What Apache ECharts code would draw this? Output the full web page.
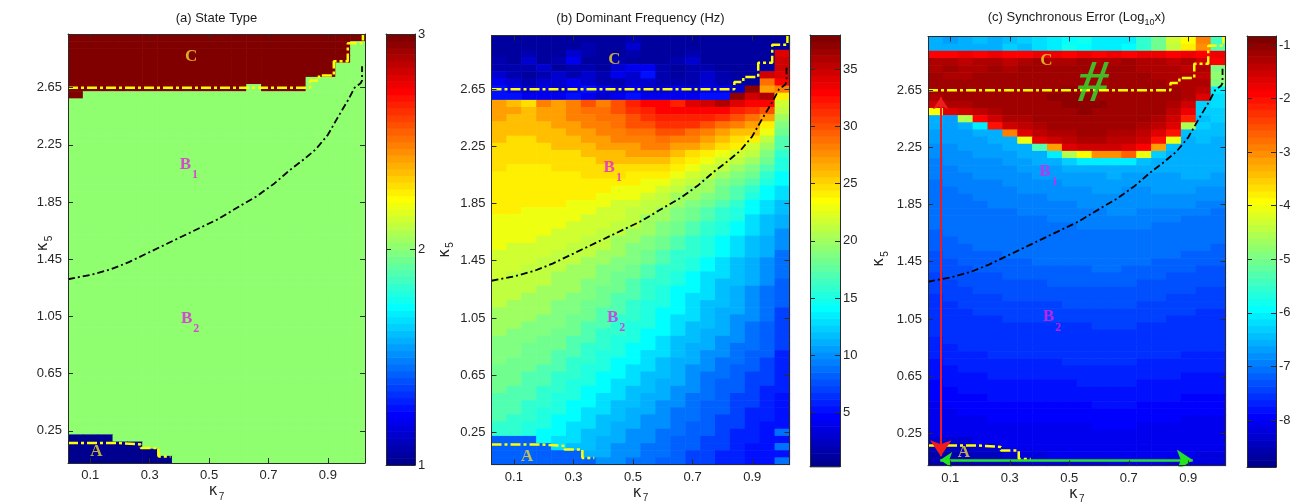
<!DOCTYPE html>
<html>
<head>
<meta charset="utf-8">
<script src="https://cdn.jsdelivr.net/npm/echarts@6/dist/echarts.min.js"></script>
<style>
  html, body { margin: 0; padding: 0; background: #ffffff; }
  #chart { width: 1303px; height: 502px; }
</style>
</head>
<body>
<div id="chart"></div>
<script>
// ---- parameter grid ----
const kappa7 = [0.05,0.10,0.15,0.20,0.25,0.30,0.35,0.40,0.45,0.50,0.55,0.60,0.65,0.70,0.75,0.80,0.85,0.90,0.95,1.00];
// rows listed from the top of the map (kappa5 = 3.00) down to 0.05
const kappa5 = [3.00,2.95,2.90,2.85,2.80,2.75,2.70,2.65,2.60,2.55,2.50,2.45,2.40,2.35,2.30,2.25,2.20,2.15,2.10,2.05,
                2.00,1.95,1.90,1.85,1.80,1.75,1.70,1.65,1.60,1.55,1.50,1.45,1.40,1.35,1.30,1.25,1.20,1.15,1.10,1.05,
                1.00,0.95,0.90,0.85,0.80,0.75,0.70,0.65,0.60,0.55,0.50,0.45,0.40,0.35,0.30,0.25,0.20,0.15,0.10,0.05];

// ---- tick labels ----
const xTicks = [0.1,0.3,0.5,0.7,0.9];
const yTicks = [0.25,0.65,1.05,1.45,1.85,2.25,2.65];
const stateTicks = [1,2,3];
const freqTicks = [5,10,15,20,25,30,35];
const errTicks = [-8,-7,-6,-5,-4,-3,-2,-1];

// ---- colour ranges ----
const stateRange = [1, 3];
const freqRange = [0.24, 38.0];
const errRange = [-8.877, -0.832];

// ---- (a) state type: 1 = A, 2 = B, 3 = C ----
const stateRows = [
"33333333333333333333",
"33333333333333333332",
"33333333333333333332",
"33333333333333333332",
"33333333333333333322",
"33333333333333333322",
"33333333333333332222",
"33333333333323332222",
"32222222222222222222",
"22222222222222222222","22222222222222222222","22222222222222222222","22222222222222222222","22222222222222222222",
"22222222222222222222","22222222222222222222","22222222222222222222","22222222222222222222","22222222222222222222",
"22222222222222222222","22222222222222222222","22222222222222222222","22222222222222222222","22222222222222222222",
"22222222222222222222","22222222222222222222","22222222222222222222","22222222222222222222","22222222222222222222",
"22222222222222222222","22222222222222222222","22222222222222222222","22222222222222222222","22222222222222222222",
"22222222222222222222","22222222222222222222","22222222222222222222","22222222222222222222","22222222222222222222",
"22222222222222222222","22222222222222222222","22222222222222222222","22222222222222222222","22222222222222222222",
"22222222222222222222","22222222222222222222","22222222222222222222","22222222222222222222","22222222222222222222",
"22222222222222222222","22222222222222222222","22222222222222222222","22222222222222222222","22222222222222222222",
"22222222222222222222","22222222222222222222",
"11122222222222222222",
"11111222222222222222",
"11111122222222222222",
"11111112222222222222"
];

// ---- (b) dominant frequency, Hz ----
const freqRows = [
[1,1,1,1,1,1,1,1,1,2,1,1,1,1,1,1,1,1,1,1],
[1,1,1,1,1,1,2,1,1,3,1,1,1,1,1,1,1,1,1,1],
[1,1,2,1,1,3,2,1,1,2,1,1,1,2,1,1,1,1,1,34],
[2,1,3,1,2,4,1,1,2,1,1,1,2,3,1,1,1,1,1,35],
[2,2,2,3,1,2,2,1,3,4,4,2,1,2,2,1,1,1,1,35],
[3,2,1,2,3,2,3,2,4,3,5,2,1,2,3,2,1,1,35,34],
[4,3,2,3,3,4,3,2,2,3,3,2,2,2,3,2,2,1,29,33],
[5,4,3,4,3,4,5,4,3,4,3,3,4,3,4,4,3,37,27,28],
[5,5,4,4,4,5,4,3,4,5,4,4,4,4,5,5,37,35,36,24],
[27,26,25,28,27,28,30,28,30,32,33,33,32,34,35,36,34,33,33,22],
[27,27,26,27,27,28,29,29,30,31,32,33,33,33,33,33,32,31,30,21],
[27,26,26,27,27,28,28,29,29,30,31,32,32,32,32,31,30,29,27,20],
[26,26,26,26,27,27,28,28,29,30,30,31,31,31,30,29,28,27,24,19],
[26,26,26,26,26,27,27,28,28,29,29,30,30,29,28,27,26,26,23,18],
[26,25,25,26,26,26,27,27,28,28,28,29,28,28,27,26,25,24,21,17],
[25,25,25,25,26,26,26,27,27,27,28,28,27,27,26,25,24,22,20,17],
[25,25,25,25,25,25,26,26,26,27,27,27,26,25,24,23,22,21,19,16],
[25,25,25,25,25,25,25,26,26,26,26,26,25,24,23,22,21,20,18,15],
[25,24,24,24,25,25,25,25,25,25,25,25,24,23,22,21,20,19,17,15],
[24,24,24,24,24,24,25,25,25,24,24,24,23,22,21,20,19,18,16,14],
[24,24,24,24,24,24,24,24,24,24,23,23,22,21,20,19,18,17,15,14],
[24,24,24,24,24,24,24,24,23,23,23,22,21,20,20,18,17,16,14,13],
[24,24,24,24,24,24,24,23,23,23,22,21,20,20,19,18,17,15,14,13],
[24,24,24,24,24,23,23,23,22,22,21,21,20,19,18,17,16,14,13,12],
[24,24,23,23,23,23,23,22,22,21,21,20,19,18,17,16,15,14,13,12],
[23,23,23,23,23,23,22,22,22,21,20,20,19,18,17,16,15,13,12,11],
[23,23,23,23,23,22,22,22,21,21,20,19,18,17,16,15,14,13,12,11],
[23,23,23,23,22,22,22,21,21,20,20,19,18,17,16,15,14,13,12,10],
[23,23,23,22,22,22,21,21,20,20,19,18,17,16,15,14,13,12,11,10],
[23,22,22,22,22,21,21,21,20,19,19,18,17,16,15,14,13,12,11,10],
[22,22,22,22,21,21,21,20,20,19,18,17,16,16,15,14,13,12,11,9],
[22,22,22,21,21,21,20,20,19,19,18,17,16,15,14,13,12,11,10,9],
[22,22,21,21,21,20,20,19,19,18,17,16,16,15,14,13,12,11,10,9],
[22,21,21,21,20,20,20,19,18,18,17,16,15,14,13,13,12,11,10,9],
[21,21,21,21,20,20,19,19,18,17,16,16,15,14,13,12,12,11,10,8],
[21,21,21,20,20,20,19,18,18,17,16,15,14,14,13,12,11,10,9,8],
[21,21,20,20,20,19,19,18,17,17,16,15,14,13,13,12,11,10,9,8],
[21,20,20,20,19,19,18,18,17,16,15,15,14,13,12,12,11,10,9,8],
[20,20,20,20,19,19,18,17,17,16,15,14,14,13,12,11,11,10,9,7],
[20,20,20,19,19,18,18,17,16,16,15,14,13,13,12,11,10,10,9,7],
[20,20,19,19,19,18,17,17,16,15,15,14,13,12,12,11,10,9,8,7],
[20,19,19,19,18,18,17,16,16,15,14,14,13,12,11,11,10,9,8,7],
[19,19,19,18,18,17,17,16,15,15,14,13,12,12,11,10,10,9,8,7],
[19,19,18,18,18,17,16,16,15,14,14,13,12,11,11,10,9,9,8,7],
[19,19,18,18,17,17,16,15,15,14,13,13,12,11,10,10,9,8,8,6],
[19,18,18,18,17,16,16,15,14,14,13,12,11,11,10,9,9,8,7,6],
[18,18,18,17,17,16,15,15,14,13,13,12,11,10,10,9,8,8,7,6],
[18,18,17,17,16,16,15,14,14,13,12,12,11,10,9,9,8,7,7,6],
[18,18,17,17,16,15,15,14,13,13,12,11,11,10,9,8,8,7,7,6],
[18,17,17,16,16,15,14,14,13,12,12,11,10,10,9,8,8,7,6,6],
[17,17,17,16,15,15,14,13,13,12,11,11,10,9,9,8,7,7,6,5],
[17,17,16,16,15,14,14,13,12,12,11,10,10,9,8,8,7,7,6,5],
[17,17,16,15,15,14,13,13,12,11,11,10,9,9,8,8,7,6,6,5],
[17,16,16,15,14,14,13,12,12,11,10,10,9,9,8,7,7,6,6,5],
[16,16,15,15,14,13,13,12,11,11,10,10,9,8,8,7,7,6,5,5],
[16,16,15,14,14,13,12,12,11,10,10,9,9,8,8,7,6,6,5,9],
[8,8,8,14,13,13,12,11,11,10,10,9,8,8,7,7,6,6,5,5],
[8,8,8,8,13,12,12,11,10,10,9,9,8,8,7,7,6,5,5,9],
[8,8,8,8,8,8,11,11,10,10,9,9,8,7,7,6,6,5,5,5],
[8,8,8,8,8,8,8,10,10,9,9,8,8,7,7,6,6,5,5,9]
];

// ---- (c) synchronous error, log10 ----
const errRows = [
[-6.6,-6.7,-6.5,-6.4,-6.6,-6.4,-6.3,-6.2,-6.1,-5.9,-5.8,-6.0,-6.1,-6.0,-5.6,-5.1,-4.3,-3.9,-2.9,-5.4],
[-6.5,-6.6,-6.6,-6.5,-6.5,-6.3,-6.4,-6.2,-6.0,-5.8,-5.9,-6.1,-6.0,-5.9,-5.5,-5.0,-4.4,-3.8,-3.0,-5.3],
[-1.9,-1.9,-1.8,-1.9,-1.8,-1.9,-1.9,-1.8,-1.8,-1.9,-1.8,-1.9,-1.8,-1.9,-1.8,-1.8,-1.9,-1.8,-1.9,-1.8],
[-1.3,-1.3,-1.4,-1.3,-1.3,-1.4,-1.3,-1.2,-1.3,-1.3,-1.2,-1.3,-1.3,-1.2,-1.3,-1.3,-1.4,-1.3,-1.5,-1.9],
[-1.3,-1.2,-1.3,-1.3,-1.2,-1.3,-1.2,-1.2,-1.2,-1.2,-1.2,-1.2,-1.2,-1.2,-1.3,-1.3,-1.3,-1.4,-1.3,-4.9],
[-1.2,-1.3,-1.3,-1.2,-1.2,-1.2,-1.2,-1.1,-1.2,-1.1,-1.2,-1.2,-1.1,-1.2,-1.2,-1.3,-1.3,-1.3,-1.4,-4.8],
[-1.2,-1.2,-1.2,-1.2,-1.2,-1.1,-1.1,-1.1,-1.1,-1.1,-1.1,-1.1,-1.1,-1.2,-1.2,-1.2,-1.3,-1.3,-1.3,-4.9],
[-1.2,-1.2,-1.2,-1.1,-1.2,-1.1,-1.1,-1.1,-1.1,-1.0,-1.1,-1.1,-1.1,-1.1,-1.2,-1.2,-1.2,-1.3,-1.4,-6.1],
[-1.3,-1.2,-1.2,-1.2,-1.1,-1.1,-1.1,-1.1,-1.0,-1.0,-1.0,-1.1,-1.1,-1.1,-1.1,-1.2,-1.2,-1.3,-1.6,-6.2],
[-1.5,-1.3,-1.3,-1.2,-1.2,-1.2,-1.1,-1.1,-1.1,-1.0,-1.0,-1.0,-1.1,-1.1,-1.1,-1.2,-1.3,-1.5,-6.3,-6.2],
[-3.9,-1.7,-1.5,-1.4,-1.3,-1.2,-1.2,-1.1,-1.1,-1.1,-1.0,-1.1,-1.1,-1.1,-1.2,-1.2,-1.4,-1.8,-6.3,-6.3],
[-6.6,-6.7,-4.5,-1.9,-1.5,-1.3,-1.3,-1.2,-1.1,-1.1,-1.1,-1.1,-1.1,-1.2,-1.2,-1.3,-1.5,-2.1,-6.4,-6.3],
[-6.6,-6.7,-6.6,-6.0,-2.0,-1.5,-1.4,-1.3,-1.2,-1.2,-1.2,-1.2,-1.2,-1.2,-1.3,-1.4,-1.7,-4.6,-6.3,-6.4],
[-6.7,-6.7,-6.7,-6.6,-6.5,-2.9,-1.7,-1.4,-1.3,-1.3,-1.2,-1.2,-1.3,-1.3,-1.4,-1.6,-2.0,-6.4,-6.4,-6.4],
[-6.7,-6.7,-6.7,-6.7,-6.6,-6.5,-4.0,-1.7,-1.5,-1.4,-1.3,-1.3,-1.4,-1.4,-1.5,-2.0,-4.0,-6.5,-6.4,-6.5],
[-6.8,-6.8,-6.7,-6.7,-6.7,-6.6,-6.5,-5.3,-3.1,-1.6,-1.5,-1.5,-1.5,-1.6,-1.9,-3.1,-6.4,-6.5,-6.5,-6.5],
[-6.8,-6.8,-6.8,-6.7,-6.7,-6.7,-6.6,-6.5,-6.0,-4.6,-3.9,-3.0,-3.0,-2.7,-4.0,-6.3,-6.5,-6.5,-6.5,-6.6],
[-6.9,-6.8,-6.8,-6.8,-6.8,-6.7,-6.7,-6.6,-6.5,-6.3,-6.1,-6.0,-6.0,-6.1,-6.4,-6.5,-6.6,-6.6,-6.6,-6.6],
[-6.9,-6.9,-6.8,-6.8,-6.8,-6.8,-6.7,-6.7,-6.7,-6.6,-6.6,-6.5,-6.5,-6.6,-6.6,-6.6,-6.6,-6.6,-6.6,-6.6],
[-6.9,-6.9,-6.9,-6.8,-6.8,-6.8,-6.8,-6.7,-6.7,-6.7,-6.7,-6.7,-6.6,-6.7,-6.7,-6.7,-6.7,-6.6,-6.6,-6.7],
[-7.0,-6.9,-6.9,-6.9,-6.9,-6.8,-6.8,-6.8,-6.8,-6.7,-6.7,-6.7,-6.7,-6.7,-6.7,-6.7,-6.7,-6.7,-6.7,-6.7],
[-7.0,-7.0,-6.9,-6.9,-6.9,-6.9,-6.8,-6.8,-6.8,-6.8,-6.8,-6.7,-6.7,-6.8,-6.8,-6.7,-6.7,-6.7,-6.8,-6.8],
[-7.0,-7.0,-7.0,-6.9,-6.9,-6.9,-6.9,-6.9,-6.8,-6.8,-6.8,-6.8,-6.8,-6.8,-6.8,-6.8,-6.8,-6.8,-6.8,-6.8],
[-7.0,-7.0,-7.0,-7.0,-6.9,-6.9,-6.9,-6.9,-6.9,-6.9,-6.8,-6.8,-6.8,-6.8,-6.8,-6.8,-6.8,-6.8,-6.9,-6.9],
[-7.1,-7.0,-7.0,-7.0,-7.0,-7.0,-6.9,-6.9,-6.9,-6.9,-6.9,-6.9,-6.8,-6.8,-6.9,-6.9,-6.9,-6.9,-6.9,-7.0],
[-7.1,-7.1,-7.0,-7.0,-7.0,-7.0,-7.0,-7.0,-6.9,-6.9,-6.9,-6.9,-6.9,-6.9,-6.9,-6.9,-6.9,-7.0,-7.0,-7.0],
[-7.1,-7.1,-7.1,-7.0,-7.0,-7.0,-7.0,-7.0,-7.0,-7.0,-6.9,-6.9,-6.9,-6.9,-6.9,-7.0,-7.0,-7.0,-7.0,-7.0],
[-7.2,-7.1,-7.1,-7.1,-7.1,-7.0,-7.0,-7.0,-7.0,-7.0,-7.0,-7.0,-7.0,-7.0,-7.0,-7.0,-7.0,-7.0,-7.1,-7.1],
[-7.2,-7.2,-7.1,-7.1,-7.1,-7.1,-7.1,-7.0,-7.0,-7.0,-7.0,-7.0,-7.0,-7.0,-7.0,-7.0,-7.1,-7.1,-7.1,-7.1],
[-7.2,-7.2,-7.2,-7.1,-7.1,-7.1,-7.1,-7.1,-7.1,-7.1,-7.0,-7.0,-7.0,-7.0,-7.1,-7.1,-7.1,-7.1,-7.1,-7.2],
[-7.3,-7.2,-7.2,-7.2,-7.2,-7.1,-7.1,-7.1,-7.1,-7.1,-7.1,-7.1,-7.1,-7.1,-7.1,-7.1,-7.1,-7.2,-7.2,-7.2],
[-7.3,-7.3,-7.2,-7.2,-7.2,-7.2,-7.2,-7.1,-7.1,-7.1,-7.1,-7.1,-7.1,-7.1,-7.1,-7.2,-7.2,-7.2,-7.2,-7.2],
[-7.3,-7.3,-7.3,-7.2,-7.2,-7.2,-7.2,-7.2,-7.2,-7.2,-7.2,-7.1,-7.1,-7.2,-7.2,-7.2,-7.2,-7.2,-7.3,-7.3],
[-7.4,-7.3,-7.3,-7.3,-7.3,-7.2,-7.2,-7.2,-7.2,-7.2,-7.2,-7.2,-7.2,-7.2,-7.2,-7.2,-7.3,-7.3,-7.3,-7.3],
[-7.4,-7.4,-7.3,-7.3,-7.3,-7.3,-7.3,-7.3,-7.2,-7.2,-7.2,-7.2,-7.2,-7.2,-7.3,-7.3,-7.3,-7.3,-7.3,-7.3],
[-7.4,-7.4,-7.4,-7.3,-7.3,-7.3,-7.3,-7.3,-7.3,-7.3,-7.3,-7.3,-7.3,-7.3,-7.3,-7.3,-7.3,-7.3,-7.4,-7.4],
[-7.5,-7.4,-7.4,-7.4,-7.4,-7.3,-7.3,-7.3,-7.3,-7.3,-7.3,-7.3,-7.3,-7.3,-7.3,-7.3,-7.4,-7.4,-7.4,-7.4],
[-7.5,-7.5,-7.4,-7.4,-7.4,-7.4,-7.4,-7.4,-7.4,-7.3,-7.3,-7.3,-7.3,-7.3,-7.4,-7.4,-7.4,-7.4,-7.4,-7.4],
[-7.5,-7.5,-7.5,-7.4,-7.4,-7.4,-7.4,-7.4,-7.4,-7.4,-7.4,-7.4,-7.4,-7.4,-7.4,-7.4,-7.4,-7.4,-7.5,-7.5],
[-7.6,-7.5,-7.5,-7.5,-7.5,-7.4,-7.4,-7.4,-7.4,-7.4,-7.4,-7.4,-7.4,-7.4,-7.4,-7.4,-7.5,-7.5,-7.5,-7.5],
[-7.6,-7.6,-7.5,-7.5,-7.5,-7.5,-7.5,-7.5,-7.5,-7.5,-7.5,-7.4,-7.4,-7.4,-7.5,-7.5,-7.5,-7.5,-7.5,-7.5],
[-7.6,-7.6,-7.6,-7.5,-7.5,-7.5,-7.5,-7.5,-7.5,-7.5,-7.5,-7.5,-7.5,-7.5,-7.5,-7.5,-7.5,-7.5,-7.6,-7.6],
[-7.7,-7.6,-7.6,-7.6,-7.6,-7.6,-7.5,-7.5,-7.5,-7.5,-7.5,-7.5,-7.5,-7.5,-7.5,-7.5,-7.6,-7.6,-7.6,-7.6],
[-7.7,-7.7,-7.6,-7.6,-7.6,-7.6,-7.6,-7.6,-7.6,-7.6,-7.6,-7.6,-7.6,-7.6,-7.6,-7.6,-7.6,-7.6,-7.6,-7.6],
[-7.7,-7.7,-7.7,-7.7,-7.6,-7.6,-7.6,-7.6,-7.6,-7.6,-7.6,-7.6,-7.6,-7.6,-7.6,-7.6,-7.6,-7.7,-7.7,-7.7],
[-7.8,-7.7,-7.7,-7.7,-7.7,-7.7,-7.7,-7.7,-7.7,-7.6,-7.6,-7.6,-7.6,-7.6,-7.7,-7.7,-7.7,-7.7,-7.7,-7.7],
[-7.8,-7.8,-7.7,-7.7,-7.7,-7.7,-7.7,-7.7,-7.7,-7.7,-7.7,-7.7,-7.7,-7.7,-7.7,-7.7,-7.7,-7.7,-7.7,-7.7],
[-7.8,-7.8,-7.8,-7.8,-7.7,-7.7,-7.7,-7.7,-7.7,-7.7,-7.7,-7.7,-7.7,-7.7,-7.7,-7.7,-7.7,-7.8,-7.8,-7.8],
[-7.9,-7.8,-7.8,-7.8,-7.8,-7.8,-7.8,-7.8,-7.8,-7.8,-7.7,-7.7,-7.7,-7.7,-7.8,-7.8,-7.8,-7.8,-7.8,-7.8],
[-7.9,-7.9,-7.8,-7.8,-7.8,-7.8,-7.8,-7.8,-7.8,-7.8,-7.8,-7.8,-7.8,-7.8,-7.8,-7.8,-7.8,-7.8,-7.8,-7.8],
[-7.9,-7.9,-7.9,-7.9,-7.8,-7.8,-7.8,-7.8,-7.8,-7.8,-7.8,-7.8,-7.8,-7.8,-7.8,-7.8,-7.8,-7.9,-7.9,-7.9],
[-8.0,-7.9,-7.9,-7.9,-7.9,-7.9,-7.9,-7.9,-7.9,-7.9,-7.9,-7.8,-7.8,-7.8,-7.9,-7.9,-7.9,-7.9,-7.9,-7.9],
[-8.0,-8.0,-7.9,-7.9,-7.9,-7.9,-7.9,-7.9,-7.9,-7.9,-7.9,-7.9,-7.9,-7.9,-7.9,-7.9,-7.9,-7.9,-7.9,-7.9],
[-8.0,-8.0,-8.0,-8.0,-7.9,-7.9,-7.9,-7.9,-7.9,-7.9,-7.9,-7.9,-7.9,-7.9,-7.9,-7.9,-7.9,-8.0,-8.0,-8.0],
[-8.1,-8.0,-8.0,-8.0,-8.0,-8.0,-8.0,-8.0,-8.0,-8.0,-8.0,-7.9,-7.9,-7.9,-8.0,-8.0,-8.0,-8.0,-8.0,-8.0],
[-8.1,-8.1,-8.0,-8.0,-8.0,-8.0,-8.0,-8.0,-8.0,-8.0,-8.0,-8.0,-8.0,-8.0,-8.0,-8.0,-8.0,-8.0,-8.0,-8.0],
[-8.3,-8.3,-8.3,-8.1,-8.1,-8.1,-8.1,-8.1,-8.0,-8.0,-8.0,-8.0,-8.0,-8.0,-8.0,-8.0,-8.0,-8.1,-8.1,-8.1],
[-8.4,-8.4,-8.4,-8.3,-8.3,-8.1,-8.1,-8.1,-8.1,-8.1,-8.1,-8.1,-8.1,-8.1,-8.1,-8.1,-8.1,-8.1,-8.1,-8.1],
[-8.5,-8.5,-8.4,-8.4,-8.4,-8.3,-8.2,-8.2,-8.1,-8.1,-8.1,-8.1,-8.1,-8.1,-8.1,-8.1,-8.1,-8.1,-8.2,-8.2],
[-8.5,-8.5,-8.5,-8.4,-8.4,-8.4,-8.3,-8.2,-8.2,-8.2,-8.2,-8.2,-8.1,-8.1,-8.1,-8.1,-8.2,-8.2,-8.2,-8.2]
];

// ---- region boundaries (kappa7, kappa5) ----
const boundaryC = [[0.025,2.65],[0.84,2.65],[0.84,2.70],[0.87,2.70],[0.87,2.735],[0.92,2.735],[0.92,2.835],
                   [0.967,2.835],[0.967,2.96],[1.018,2.96],[1.018,3.025]];
const boundaryA = [[0.025,0.165],[0.19,0.165],[0.19,0.155],[0.27,0.155],[0.27,0.13],[0.33,0.13],[0.33,0.07],[0.37,0.07]];
const boundaryB = [[0.025,1.31],[0.10,1.34],[0.17,1.38],[0.23,1.43],[0.33,1.53],[0.44,1.64],[0.53,1.73],[0.61,1.83],
                   [0.66,1.89],[0.72,1.98],[0.77,2.07],[0.82,2.15],[0.86,2.22],[0.90,2.32],[0.93,2.43],[0.97,2.57],
                   [0.99,2.65],[1.01,2.68],[1.015,2.70],[1.015,2.80]];

// ---- region labels ----
const labelsA = [[0.44,2.86,'C'],[0.432,2.11,'B1'],[0.436,1.03,'B2'],[0.121,0.10,'A']];
const labelsB = [[0.437,2.85,'C'],[0.432,2.10,'B1'],[0.443,1.05,'B2'],[0.145,0.08,'A']];
const labelsC = [[0.423,2.85,'C'],[0.58,2.68,'#'],[0.43,2.08,'B1'],[0.442,1.06,'B2'],[0.146,0.115,'A']];

// ---- arrows in (c) ----
const arrowRed = [[0.068,2.60],[0.068,0.09]];
const arrowGreen = [[0.066,0.063],[0.915,0.063]];

// ---------------------------------------------------------------
const AXIS_COLOR = '#2b2b2b';
const TEXT_COLOR = '#262626';
const FONT = "'Liberation Sans', Arial, sans-serif";
const SERIF = "'Liberation Serif', 'Times New Roman', serif";

// MATLAB-style 64-level jet colour map
function jet64(idx) {
  const u = k => (k < 1 || k > 47) ? 0 : (k <= 16 ? k / 16 : (k <= 31 ? 1 : (48 - k) / 16));
  const r = u(idx - 24), g = u(idx - 8), b = u(idx + 8);
  return 'rgb(' + Math.round(r * 255) + ',' + Math.round(g * 255) + ',' + Math.round(b * 255) + ')';
}
function colorOf(v, range) {
  let i = Math.floor((v - range[0]) / (range[1] - range[0]) * 64) + 1;
  return jet64(Math.max(1, Math.min(64, i)));
}

function gridCells(rows) {
  const cells = [];
  rows.forEach((row, r) => row.forEach((v, c) => cells.push([kappa7[c], kappa5[r], v])));
  return cells;
}
const stateCells = gridCells(stateRows.map(s => s.split('').map(Number)));
const freqCells = gridCells(freqRows);
const errCells = gridCells(errRows);

const halfX = (kappa7[1] - kappa7[0]) / 2;
const halfY = (kappa5[0] - kappa5[1]) / 2;

function heatSeries(p, cells, range) {
  return {
    type: 'custom', xAxisIndex: 2 * p, yAxisIndex: 2 * p, data: cells, z: 2, silent: true,
    encode: { x: 0, y: 1 },
    renderItem: function (params, api) {
      const x = api.value(0), y = api.value(1), v = api.value(2);
      const a = api.coord([x - halfX, y + halfY]);
      const b = api.coord([x + halfX, y - halfY]);
      return {
        type: 'rect',
        shape: { x: a[0], y: a[1], width: b[0] - a[0] + 0.6, height: b[1] - a[1] + 0.6 },
        style: { fill: colorOf(v, range) }
      };
    }
  };
}

function colorbarSeries(q, range) {
  const bands = [];
  for (let i = 0; i < 64; i++) {
    bands.push([range[0] + (range[1] - range[0]) * i / 64, range[0] + (range[1] - range[0]) * (i + 1) / 64, i + 1]);
  }
  return {
    type: 'custom', xAxisIndex: 6 + 2 * q, yAxisIndex: 6 + 2 * q, data: bands, z: 2, silent: true,
    encode: { y: [0, 1] },
    renderItem: function (params, api) {
      const a = api.coord([0, api.value(1)]);
      const b = api.coord([1, api.value(0)]);
      return {
        type: 'rect',
        shape: { x: a[0], y: a[1], width: b[0] - a[0], height: b[1] - a[1] + 0.6 },
        style: { fill: jet64(api.value(2)) }
      };
    }
  };
}

function lineSeries(p, pts, color, width, dash) {
  return {
    type: 'line', xAxisIndex: 2 * p, yAxisIndex: 2 * p, data: pts, z: 5, silent: true,
    symbol: 'none', smooth: false, animation: false,
    lineStyle: { color: color, width: width, type: dash }
  };
}

const labelRich = {
  y: { color: '#f2d62a', fontFamily: SERIF, fontWeight: 'bold', fontSize: 17, lineHeight: 18, verticalAlign: 'top' },
  m: { color: '#e61ee6', fontFamily: SERIF, fontWeight: 'bold', fontSize: 17, lineHeight: 18, verticalAlign: 'top' },
  ms: { color: '#e61ee6', fontFamily: SERIF, fontWeight: 'bold', fontSize: 12, lineHeight: 12, padding: [13, 0, 0, 1], verticalAlign: 'top' },
  h: { color: '#2ee62e', fontFamily: SERIF, fontWeight: 'bold', fontStyle: 'italic', fontSize: 60, lineHeight: 60 }
};
function labelText(t) {
  if (t === 'C' || t === 'A') return '{y|' + t + '}';
  if (t === '#') return '{h|#}';
  return '{m|' + t.charAt(0) + '}{ms|' + t.charAt(1) + '}';
}
function labelSeries(p, items) {
  return {
    type: 'scatter', xAxisIndex: 2 * p, yAxisIndex: 2 * p, z: 6, silent: true, symbolSize: 1,
    itemStyle: { color: 'rgba(0,0,0,0)' },
    data: items.map(d => ({ value: [d[0], d[1]], name: d[2] })),
    label: { show: true, position: 'inside', formatter: p => labelText(p.name), rich: labelRich }
  };
}

function arrowSeries(p, pts, color, width, size) {
  return {
    type: 'lines', coordinateSystem: 'cartesian2d', xAxisIndex: 2 * p, yAxisIndex: 2 * p, z: 7, silent: true,
    symbol: ['arrow', 'arrow'], symbolSize: size,
    lineStyle: { color: color, width: width, opacity: 1 },
    data: [{ coords: pts }]
  };
}

const kappaName = sub => '{k|κ}{s|' + sub + '}';
const kappaRich = {
  k: { fontSize: 15, fontFamily: "'DejaVu Sans', sans-serif", color: TEXT_COLOR, lineHeight: 16, verticalAlign: 'top' },
  s: { fontSize: 10, fontFamily: FONT, color: TEXT_COLOR, lineHeight: 10, padding: [8, 0, 0, 1], verticalAlign: 'top' }
};

function axis(g, range, ticks, pos, labeled, extra) {
  return Object.assign({
    type: 'value', gridIndex: g, min: range[0], max: range[1], position: pos, z: 10,
    axisLine: { show: true, onZero: false, lineStyle: { color: AXIS_COLOR, width: 1 } },
    axisTick: { show: ticks.length > 0, inside: true, length: 5, customValues: ticks, lineStyle: { color: AXIS_COLOR, width: 1 } },
    axisLabel: { show: labeled, customValues: ticks, color: TEXT_COLOR, fontSize: 13, fontFamily: FONT, margin: 6 },
    splitLine: { show: false }, axisPointer: { show: false }
  }, extra || {});
}

const xRange = [0.025, 1.025];
const yRange = [0.025, 3.025];
const panels = [
  { left: 68, top: 34, width: 297, height: 429, yGap: 16, namePad: [0, 0, 0, 10] },
  { left: 491.5, top: 35.5, width: 298, height: 429, yGap: 38, namePad: [0, 0, 0, 0] },
  { left: 928, top: 36.5, width: 297.5, height: 429, yGap: 40, namePad: [0, 16, 0, 0] }
];
const bars = [
  { left: 386, top: 34, width: 29, height: 431, range: stateRange, ticks: stateTicks },
  { left: 810, top: 35, width: 30, height: 431.7, range: freqRange, ticks: freqTicks },
  { left: 1247, top: 36, width: 29, height: 431, range: errRange, ticks: errTicks }
];

const grid = [], xAxis = [], yAxis = [];
panels.forEach((p, i) => {
  grid.push({ left: p.left, top: p.top, width: p.width, height: p.height, outerBoundsMode: 'none', containLabel: false });
  xAxis.push(axis(i, xRange, xTicks, 'bottom', true, {
    name: kappaName('7'), nameLocation: 'middle', nameGap: 21, nameMoveOverlap: false,
    nameTextStyle: { rich: kappaRich }
  }));
  xAxis.push(axis(i, xRange, xTicks, 'top', false));
  yAxis.push(axis(i, yRange, yTicks, 'left', true, {
    name: kappaName('5'), nameLocation: 'middle', nameGap: p.yGap, nameRotate: 90, nameMoveOverlap: false,
    nameTextStyle: { rich: kappaRich, padding: p.namePad }
  }));
  yAxis.push(axis(i, yRange, yTicks, 'right', false));
});
bars.forEach((b, q) => {
  grid.push({ left: b.left, top: b.top, width: b.width, height: b.height, outerBoundsMode: 'none', containLabel: false });
  xAxis.push(axis(3 + q, [0, 1], [], 'bottom', false));
  xAxis.push(axis(3 + q, [0, 1], [], 'top', false));
  yAxis.push(axis(3 + q, b.range, b.ticks, 'right', true, { axisLabel: { show: true, customValues: b.ticks, color: TEXT_COLOR, fontSize: 13, fontFamily: FONT, margin: 3 } }));
  yAxis.push(axis(3 + q, b.range, b.ticks, 'left', false));
});

const YELLOW = '#ffff00';
const DASH_Y = [10, 3, 3, 3];
const DASH_K = [7, 3, 2, 3];

const series = [
  heatSeries(0, stateCells, stateRange),
  heatSeries(1, freqCells, freqRange),
  heatSeries(2, errCells, errRange),
  colorbarSeries(0, stateRange),
  colorbarSeries(1, freqRange),
  colorbarSeries(2, errRange)
];
[0, 1, 2].forEach(p => {
  series.push(lineSeries(p, boundaryB, '#000000', 1.8, DASH_K));
  series.push(lineSeries(p, boundaryC, YELLOW, 2.5, DASH_Y));
  series.push(lineSeries(p, boundaryA, YELLOW, 2.5, DASH_Y));
});
series.push(labelSeries(0, labelsA), labelSeries(1, labelsB), labelSeries(2, labelsC));
series.push(arrowSeries(2, arrowRed, '#ee1c1c', 2, [12, 16]));
series.push(arrowSeries(2, arrowGreen, '#22e322', 2.5, [12, 16]));

const titleStyle = { fill: '#1a1a1a', font: '13px ' + FONT, align: 'center', verticalAlign: 'middle' };
const graphic = [
  { type: 'text', x: 216.5, y: 18, style: Object.assign({ text: '(a) State Type' }, titleStyle) },
  { type: 'text', x: 640.5, y: 18, style: Object.assign({ text: '(b) Dominant Frequency (Hz)' }, titleStyle) },
  { type: 'text', x: 1076.5, y: 18, style: Object.assign({
      text: '{t|(c) Synchronous Error (Log}{s|10}{t|x)}',
      rich: {
        t: { fontSize: 13, fontFamily: FONT, fill: '#1a1a1a', lineHeight: 15, verticalAlign: 'top' },
        s: { fontSize: 9, fontFamily: FONT, fill: '#1a1a1a', lineHeight: 9, padding: [8, 0, 0, 0], verticalAlign: 'top' }
      }
    }, titleStyle) }
];

const chart = echarts.init(document.getElementById('chart'), null, { renderer: 'canvas' });
chart.setOption({
  animation: false,
  backgroundColor: '#ffffff',
  grid: grid, xAxis: xAxis, yAxis: yAxis,
  series: series,
  graphic: graphic
});
</script>
</body>
</html>
